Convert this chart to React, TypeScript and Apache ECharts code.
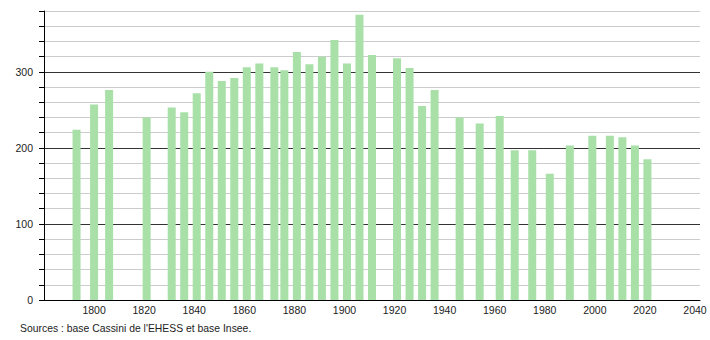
import React, { useEffect, useRef } from "react";
import * as echarts from "echarts";

const years = [
  1793, 1800, 1806, 1821, 1831, 1836, 1841, 1846, 1851, 1856, 1861, 1866,
  1872, 1876, 1881, 1886, 1891, 1896, 1901, 1906, 1911, 1921, 1926, 1931,
  1936, 1946, 1954, 1962, 1968, 1975, 1982, 1990, 1999, 2006, 2011, 2016,
  2021,
];
const population = [
  224, 257, 276, 240, 253, 247, 272, 300, 288, 292, 306, 311,
  306, 302, 326, 310, 320, 342, 311, 375, 322, 318, 305, 255,
  276, 240, 232, 242, 197, 197, 166, 203, 216, 216, 214, 203,
  185,
];
const sourceText = "Sources : base Cassini de l'EHESS et base Insee.";

export default function App() {
  const ref = useRef<HTMLDivElement>(null);
  useEffect(() => {
    document.body.style.margin = "0";
    if (!ref.current) return;
    const chart = echarts.init(ref.current, undefined, { renderer: "svg" });
    const font = "'Liberation Sans', Arial, sans-serif";
    const lineColors: string[] = [];
    for (let v = 0; v <= 380; v += 20) lineColors.push(v % 100 === 0 ? "#333333" : "#cccccc");
    chart.setOption({
      animation: false,
      grid: { left: 44, right: 10, top: 11, bottom: 40, containLabel: false },
      xAxis: {
        type: "value",
        min: 1780,
        max: 2042,
        interval: 20,
        axisLine: { show: true, lineStyle: { color: "#000", width: 1 } },
        axisTick: { show: false },
        splitLine: { show: false },
        axisLabel: {
          fontFamily: font,
          fontSize: 10.5,
          color: "#222",
          margin: 4,
          showMinLabel: false,
          showMaxLabel: false,
          formatter: (v: number) => (v % 20 === 0 && v !== 1780 ? String(v) : ""),
        },
      },
      yAxis: {
        type: "value",
        min: 0,
        max: 380,
        interval: 20,
        axisLine: { show: true, lineStyle: { color: "#000", width: 1 } },
        axisTick: { show: true, length: 5, lineStyle: { color: "#000" } },
        splitLine: { show: true, lineStyle: { color: lineColors, width: 1 } },
        axisLabel: {
          fontFamily: font,
          fontSize: 10.5,
          color: "#222",
          margin: 11,
          formatter: (v: number) => (v % 100 === 0 ? String(v) : ""),
        },
      },
      series: [
        {
          type: "bar",
          barWidth: 8,
          itemStyle: { color: "#a8e0a8" },
          data: years.map((y, i) => [y, population[i]]),
        },
      ],
      graphic: [
        {
          type: "text",
          left: 20,
          top: 323,
          style: { text: sourceText, fontFamily: font, fontSize: 10.4, fill: "#222" },
        },
      ],
    });
    return () => chart.dispose();
  }, []);
  return <div ref={ref} style={{ width: 710, height: 340 }} />;
}
